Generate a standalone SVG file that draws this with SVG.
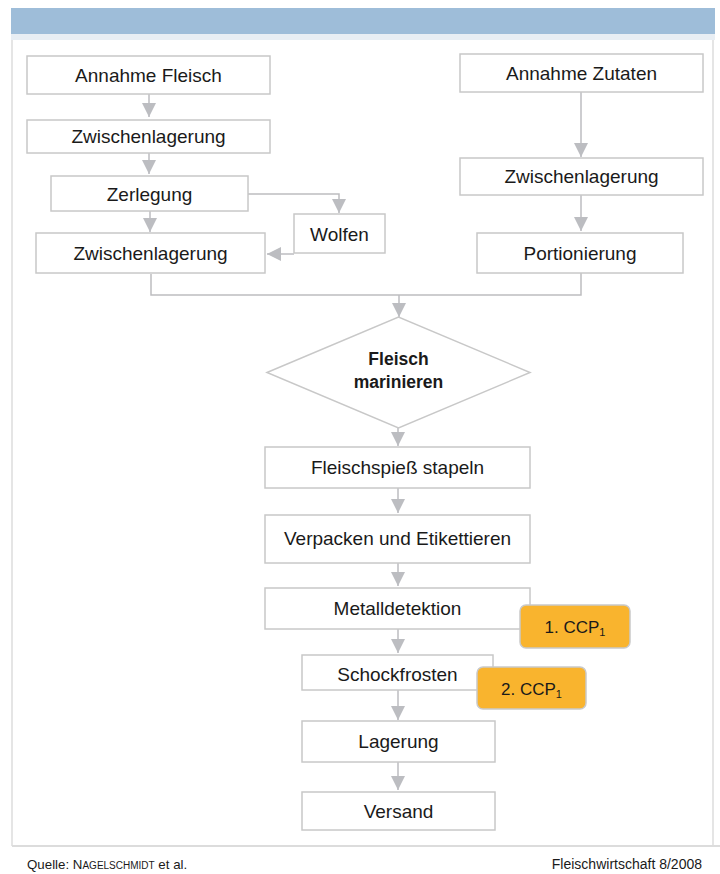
<svg xmlns="http://www.w3.org/2000/svg" width="720" height="874" viewBox="0 0 720 874">
<defs>
<style>
.box{fill:#ffffff;stroke:#c8c8c8;stroke-width:1.5}
.lbl{font-family:"Liberation Sans",Arial,sans-serif;font-size:19px;fill:#1a1a1a;text-anchor:middle}
.bold{font-weight:bold;font-size:17.5px}
.con{fill:none;stroke:#bdbdc0;stroke-width:1.5}
.badge{fill:#f9b42e;stroke:#c9c9c9;stroke-width:1.5}
.btxt{font-family:"Liberation Sans",Arial,sans-serif;font-size:17px;fill:#1a1a1a;text-anchor:middle}
.foot{font-family:"Liberation Sans",Arial,sans-serif;font-size:14px;fill:#1a1a1a}
.foot.src{font-size:13.3px}
.sc{font-size:10px}
.sub{font-size:11px}
</style>
<marker id="ah" markerUnits="userSpaceOnUse" markerWidth="14" markerHeight="14" refX="14" refY="7" orient="auto" viewBox="0 0 14 14">
<path d="M0,0 L14,7 L0,14 z" fill="#bcbdc1"/>
</marker>
</defs>
<rect x="0" y="0" width="720" height="874" fill="#ffffff"/>
<g id="frame">
<rect x="11" y="8" width="704" height="26" fill="#9ebdd9"/>
<rect x="11" y="34" width="704" height="6" fill="#e8eef4"/>
<line x1="12" y1="40" x2="12" y2="846" stroke="#dcdcdc" stroke-width="1.5"/>
<line x1="713" y1="40" x2="713" y2="846" stroke="#dcdcdc" stroke-width="1.5"/>
<line x1="12" y1="846" x2="720" y2="846" stroke="#dcdcdc" stroke-width="2"/>
</g>
<g id="connectors">
<path class="con" d="M149,94 V117" marker-end="url(#ah)"/>
<path class="con" d="M149,153 V174" marker-end="url(#ah)"/>
<path class="con" d="M150,211 V232" marker-end="url(#ah)"/>
<path class="con" d="M248,194 H339 V213" marker-end="url(#ah)"/>
<path class="con" d="M294,254 H267" marker-end="url(#ah)"/>
<path class="con" d="M581,92 V157"  marker-end="url(#ah)"/>
<path class="con" d="M581,195 V231" marker-end="url(#ah)"/>
<path class="con" d="M151,274 V295 H581 V273"/>
<path class="con" d="M399,295 V317" marker-end="url(#ah)"/>
<path class="con" d="M398,428 V446" marker-end="url(#ah)"/>
<path class="con" d="M398,488 V513" marker-end="url(#ah)"/>
<path class="con" d="M398,563 V586" marker-end="url(#ah)"/>
<path class="con" d="M398,629 V653" marker-end="url(#ah)"/>
<path class="con" d="M398,690 V720" marker-end="url(#ah)"/>
<path class="con" d="M398,762 V790" marker-end="url(#ah)"/>
</g>
<g id="n1"><rect class="box" x="27" y="56" width="243" height="38"/><text class="lbl" x="148.5" y="82">Annahme Fleisch</text></g>
<g id="n2"><rect class="box" x="27" y="120" width="243" height="33"/><text class="lbl" x="148.5" y="143">Zwischenlagerung</text></g>
<g id="n3"><rect class="box" x="51" y="176" width="197" height="35"/><text class="lbl" x="149.5" y="201">Zerlegung</text></g>
<g id="n4"><rect class="box" x="294" y="214" width="91" height="39"/><text class="lbl" x="339.5" y="241">Wolfen</text></g>
<g id="n5"><rect class="box" x="36" y="233" width="229" height="40"/><text class="lbl" x="150.5" y="260">Zwischenlagerung</text></g>
<g id="n6"><rect class="box" x="460" y="54" width="243" height="38"/><text class="lbl" x="581.5" y="80">Annahme Zutaten</text></g>
<g id="n7"><rect class="box" x="460" y="158" width="243" height="37"/><text class="lbl" x="581.5" y="183">Zwischenlagerung</text></g>
<g id="n8"><rect class="box" x="477" y="233" width="206" height="40"/><text class="lbl" x="580" y="260">Portionierung</text></g>
<g id="n9"><polygon class="box" points="267,372.5 398.5,317 530,372.5 398.5,428"/><text class="lbl bold" x="398.5" y="365">Fleisch</text><text class="lbl bold" x="398.5" y="388">marinieren</text></g>
<g id="n10"><rect class="box" x="265" y="447" width="265" height="41"/><text class="lbl" x="397.5" y="474">Fleischspieß stapeln</text></g>
<g id="n11"><rect class="box" x="265" y="515" width="265" height="48"/><text class="lbl" x="397.5" y="545">Verpacken und Etikettieren</text></g>
<g id="n12"><rect class="box" x="265" y="588" width="265" height="41"/><text class="lbl" x="397.5" y="615">Metalldetektion</text></g>
<g id="n13"><rect class="box" x="302" y="655" width="191" height="35"/><text class="lbl" x="397.5" y="681">Schockfrosten</text></g>
<g id="n14"><rect class="box" x="302" y="721" width="193" height="41"/><text class="lbl" x="398.5" y="748">Lagerung</text></g>
<g id="n15"><rect class="box" x="302" y="792" width="193" height="38"/><text class="lbl" x="398.5" y="818">Versand</text></g>
<g id="ccp1"><rect class="badge" x="520" y="605" width="110" height="43" rx="6"/><text class="btxt" x="575" y="633">1. CCP<tspan class="sub" dy="3">1</tspan></text></g>
<g id="ccp2"><rect class="badge" x="477" y="667" width="109" height="42" rx="6"/><text class="btxt" x="531.5" y="695">2. CCP<tspan class="sub" dy="3">1</tspan></text></g>
<g id="footer">
<text class="foot src" x="27" y="869">Quelle: N<tspan class="sc">AGELSCHMIDT</tspan> et al.</text>
<text class="foot" x="702" y="869" text-anchor="end">Fleischwirtschaft 8/2008</text>
</g>
</svg>
